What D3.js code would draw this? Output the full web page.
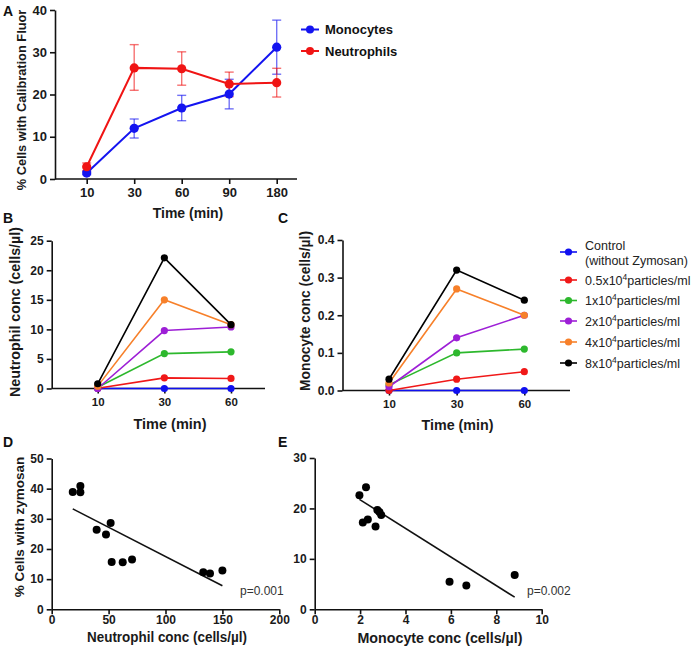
<!DOCTYPE html>
<html><head><meta charset="utf-8">
<script src="https://cdn.jsdelivr.net/npm/d3@7"></script>
<style>
body{margin:0;background:#fff;}
svg{display:block;}
text{font-family:"Liberation Sans",Arial,sans-serif;}
</style></head><body>
<svg id="chart" width="692" height="652"></svg>
<script>
// ---------- DATA ----------
// Panel A
const timesA = ["10","30","60","90","180"];
const monoMean = [1.4, 12.0, 16.8, 20.1, 31.2];
const monoLow  = [1.0, 9.7, 13.8, 16.6, 24.8];
const monoHigh = [1.8, 14.2, 19.8, 23.6, 37.6];
const neutMean = [2.9, 26.3, 26.1, 22.5, 22.8];
const neutLow  = [2.0, 21.0, 22.2, 19.5, 19.4];
const neutHigh = [3.8, 31.8, 30.1, 25.3, 26.2];
const ticksA = [0, 10, 20, 30, 40];
// Panels B & C
const timesBC = ["10","30","60"];
const seriesNames = ["Control", "0.5x10", "1x10", "2x10", "4x10", "8x10"];
const seriesColors = ["#1010f0", "#f01818", "#2db82d", "#9d1fd6", "#f7802a", "#000000"];
const neutConc = [
  [0, 0, 0],
  [0.05, 1.8, 1.7],
  [0.2, 5.9, 6.2],
  [0.0, 9.8, 10.4],
  [0.4, 15.0, 10.8],
  [0.8, 22.1, 10.8]
];
const monoConc = [
  [0, 0, 0],
  [0.0, 0.03, 0.05],
  [0.015, 0.10, 0.11],
  [0.01, 0.14, 0.20],
  [0.02, 0.27, 0.20],
  [0.03, 0.32, 0.24]
];
const ticksB = [0, 5, 10, 15, 20, 25];
const ticksC = [0, 0.1, 0.2, 0.3, 0.4];
// Panel D
const dNeut = [18.5, 25.2, 25.2, 39.5, 47.7, 51.8, 52.7, 62.4, 70.6, 133.2, 139.1, 150.0];
const dPct  = [38.9, 40.9, 38.8, 26.4, 24.8, 28.6, 15.7, 15.6, 16.5, 12.3, 11.9, 12.9];
const dFitX = [18.5, 150.0];
const dFitY = [33.3, 7.8];
const ticksDx = [0, 50, 100, 150, 200];
const ticksDy = [0, 10, 20, 30, 40, 50];
// Panel E
const eMono = [1.97, 2.26, 2.12, 2.34, 2.68, 2.76, 2.85, 2.93, 5.94, 6.68, 8.81];
const ePct  = [22.6, 24.2, 17.2, 17.8, 16.4, 19.7, 19.3, 18.7, 5.45, 4.7, 6.8];
const eFitX = [1.97, 8.81];
const eFitY = [21.8, 2.4];
const ticksEx = [0, 2, 4, 6, 8, 10];
const ticksEy = [0, 10, 20, 30];

// ---------- DRAW ----------
const svg = d3.select("#chart");
const AX = "#111";
const CAL = "Lato, 'Open Sans', sans-serif";

function styleAxis(g, fs){
  g.selectAll(".domain").attr("stroke", AX).attr("stroke-width", 1.6);
  g.selectAll(".tick line").attr("stroke", AX).attr("stroke-width", 1.6);
  g.selectAll(".tick text").attr("fill", "#1a1a1a").attr("font-weight", "bold")
    .attr("font-size", fs).attr("font-family", "'Liberation Sans', Arial, sans-serif");
}
function hline(x1, x2, y){
  svg.append("line").attr("x1", x1).attr("x2", x2).attr("y1", y).attr("y2", y)
    .attr("stroke", AX).attr("stroke-width", 1.6);
}
function panelLabel(t, x, y){
  svg.append("text").attr("x", x).attr("y", y).text(t)
    .attr("font-weight", "bold").attr("font-size", 14).attr("fill", "#111");
}
function vTitle(t, x, y, fs, fam, len){
  const tx = svg.append("text").attr("transform", `translate(${x},${y}) rotate(-90)`)
    .attr("text-anchor", "middle").attr("font-weight", "bold").attr("font-size", fs)
    .attr("fill", "#1a1a1a").text(t);
  if (fam) tx.attr("font-family", fam);
  if (len) tx.attr("textLength", len).attr("lengthAdjust", "spacingAndGlyphs");
}
function hTitle(t, x, y, fs, fam, len){
  const tx = svg.append("text").attr("x", x).attr("y", y)
    .attr("text-anchor", "middle").attr("font-weight", "bold").attr("font-size", fs)
    .attr("fill", "#1a1a1a").text(t);
  if (fam) tx.attr("font-family", fam);
  if (len) tx.attr("textLength", len).attr("lengthAdjust", "spacingAndGlyphs");
}

// ===== Panel A =====
{
  const x = d3.scalePoint().domain(timesA).range([86.7, 276.7]);
  const y = d3.scaleLinear().domain([0, 40]).range([179, 10]);
  const gx = svg.append("g").attr("transform", "translate(0,179)")
    .call(d3.axisBottom(x).tickSize(5).tickSizeOuter(0).tickPadding(4));
  gx.select(".domain").remove();
  styleAxis(gx, 13);
  hline(55, 297, 179);
  const gy = svg.append("g").attr("transform", "translate(55,0)")
    .call(d3.axisLeft(y).tickValues(ticksA).tickSize(5).tickSizeOuter(0).tickPadding(3));
  styleAxis(gy, 13);

  const sets = [
    {m: monoMean, lo: monoLow, hi: monoHigh, c: "#1414f0"},
    {m: neutMean, lo: neutLow, hi: neutHigh, c: "#f01414"}
  ];
  sets.forEach(s => {
    const g = svg.append("g").attr("stroke", s.c).attr("stroke-opacity", 0.6).attr("stroke-width", 1.4);
    timesA.forEach((t, i) => {
      const cx = x(t);
      g.append("line").attr("x1", cx).attr("x2", cx).attr("y1", y(s.lo[i])).attr("y2", y(s.hi[i]));
      g.append("line").attr("x1", cx-4.5).attr("x2", cx+4.5).attr("y1", y(s.lo[i])).attr("y2", y(s.lo[i]));
      g.append("line").attr("x1", cx-4.5).attr("x2", cx+4.5).attr("y1", y(s.hi[i])).attr("y2", y(s.hi[i]));
    });
  });
  sets.forEach(s => {
    svg.append("path").datum(s.m)
      .attr("d", d3.line().x((d, i) => x(timesA[i])).y(d => y(d)))
      .attr("fill", "none").attr("stroke", s.c).attr("stroke-width", 2);
    svg.append("g").selectAll("circle").data(s.m).join("circle")
      .attr("cx", (d, i) => x(timesA[i])).attr("cy", d => y(d)).attr("r", 4.6).attr("fill", s.c);
  });
  [["Monocytes", "#1414f0", 29.5], ["Neutrophils", "#f01414", 51]].forEach(([n, c, ly]) => {
    svg.append("line").attr("x1", 301).attr("x2", 319).attr("y1", ly).attr("y2", ly)
      .attr("stroke", c).attr("stroke-width", 2);
    svg.append("circle").attr("cx", 310).attr("cy", ly).attr("r", 4).attr("fill", c);
    svg.append("text").attr("x", 325).attr("y", ly + 4.5).text(n)
      .attr("font-weight", "bold").attr("font-size", 13).attr("fill", "#111");
  });
  panelLabel("A", 3, 16);
  vTitle("% Cells with Calibration Fluor", 26, 100, 12.8);
  hTitle("Time (min)", 188, 218, 14);
}

// ===== Panels B and C =====
function linePanel(data, ticks, yTop, y0, axisX, axisEnd, xr, fmt){
  const x = d3.scalePoint().domain(timesBC).range(xr);
  const y = d3.scaleLinear().domain([0, ticks[ticks.length-1]]).range([y0, yTop]);
  const gx = svg.append("g").attr("transform", `translate(0,${y0})`)
    .call(d3.axisBottom(x).tickSize(5).tickSizeOuter(0).tickPadding(4));
  gx.select(".domain").remove();
  styleAxis(gx, 11.5);
  hline(axisX, axisEnd, y0);
  const gy = svg.append("g").attr("transform", `translate(${axisX},0)`)
    .call(d3.axisLeft(y).tickValues(ticks).tickSize(5).tickSizeOuter(0).tickPadding(3).tickFormat(fmt));
  styleAxis(gy, 12);
  data.forEach((s, k) => {
    svg.append("path").datum(s)
      .attr("d", d3.line().x((d, i) => x(timesBC[i])).y(d => y(d)))
      .attr("fill", "none").attr("stroke", seriesColors[k]).attr("stroke-width", 1.6);
    svg.append("g").selectAll("circle").data(s).join("circle")
      .attr("cx", (d, i) => x(timesBC[i])).attr("cy", d => y(d)).attr("r", 3.6).attr("fill", seriesColors[k]);
  });
}
linePanel(neutConc, ticksB, 240.7, 388.5, 51.7, 265, [97.7, 231], d3.format("d"));
linePanel(monoConc, ticksC, 240, 390.5, 342.5, 570, [389, 524.3], d3.format(".1f"));
panelLabel("B", 3, 223);
panelLabel("C", 278, 223);
vTitle("Neutrophil conc (cells/\u00b5l)", 20, 312, 15.5, CAL, 170);
vTitle("Monocyte conc (cells/\u00b5l)", 310, 311, 15.5, CAL, 160);
hTitle("Time (min)", 170, 429, 15.5, CAL, 73);
hTitle("Time (min)", 457.5, 430, 15.5, CAL, 72);

// legend C
{
  const lx1 = 560, lx2 = 577, tx = 585;
  const ys = [252, 280, 300.5, 321, 342, 363];
  seriesNames.forEach((n, k) => {
    const ly = ys[k];
    svg.append("line").attr("x1", lx1).attr("x2", lx2).attr("y1", ly).attr("y2", ly)
      .attr("stroke", seriesColors[k]).attr("stroke-width", 1.6);
    svg.append("circle").attr("cx", (lx1+lx2)/2).attr("cy", ly).attr("r", 3.6).attr("fill", seriesColors[k]);
    if (k === 0) {
      const t = svg.append("text").attr("font-size", 12.5).attr("fill", "#222");
      t.append("tspan").attr("x", tx).attr("y", 249.5).text("Control");
      t.append("tspan").attr("x", tx).attr("y", 264.5).text("(without Zymosan)");
    } else {
      const t = svg.append("text").attr("x", tx).attr("y", ly + 4.5).attr("font-size", 12.5).attr("fill", "#222");
      t.append("tspan").text(n);
      t.append("tspan").attr("font-size", 8.5).attr("dy", -5).text("4");
      t.append("tspan").attr("dy", 5).text("particles/ml");
    }
  });
}

// ===== Panels D and E =====
function scatterPanel(xs, ys, fx, fy, xt, yt, axisX, xEnd, y0, yTop, pText, pX){
  const x = d3.scaleLinear().domain([xt[0], xt[xt.length-1]]).range([axisX, xEnd]);
  const y = d3.scaleLinear().domain([yt[0], yt[yt.length-1]]).range([y0, yTop]);
  const gx = svg.append("g").attr("transform", `translate(0,${y0})`)
    .call(d3.axisBottom(x).tickValues(xt).tickSize(5).tickSizeOuter(0).tickPadding(1.5));
  styleAxis(gx, 12);
  const gy = svg.append("g").attr("transform", `translate(${axisX},0)`)
    .call(d3.axisLeft(y).tickValues(yt).tickSize(5).tickSizeOuter(0).tickPadding(3));
  styleAxis(gy, 12);
  svg.append("line").attr("x1", x(fx[0])).attr("y1", y(fy[0])).attr("x2", x(fx[1])).attr("y2", y(fy[1]))
    .attr("stroke", "#111").attr("stroke-width", 1.6);
  svg.append("g").selectAll("circle").data(xs).join("circle")
    .attr("cx", d => x(d)).attr("cy", (d, i) => y(ys[i])).attr("r", 4).attr("fill", "#000");
  svg.append("text").attr("x", pX).attr("y", 595).attr("font-size", 12).attr("fill", "#333").text(pText);
}
scatterPanel(dNeut, dPct, dFitX, dFitY, ticksDx, ticksDy, 51.7, 279.3, 609.3, 458.5, "p=0.001", 240);
scatterPanel(eMono, ePct, eFitX, eFitY, ticksEx, ticksEy, 314.7, 541.7, 609.3, 458, "p=0.002", 527);
panelLabel("D", 3, 447);
panelLabel("E", 278, 447);
vTitle("% Cells with zymosan", 24, 527, 13.5);
hTitle("Neutrophil conc (cells/\u00b5l)", 167, 642, 14.5, CAL, 160);
hTitle("Monocyte conc (cells/\u00b5l)", 440, 643, 14.5, CAL, 165);
</script>
</body></html>
